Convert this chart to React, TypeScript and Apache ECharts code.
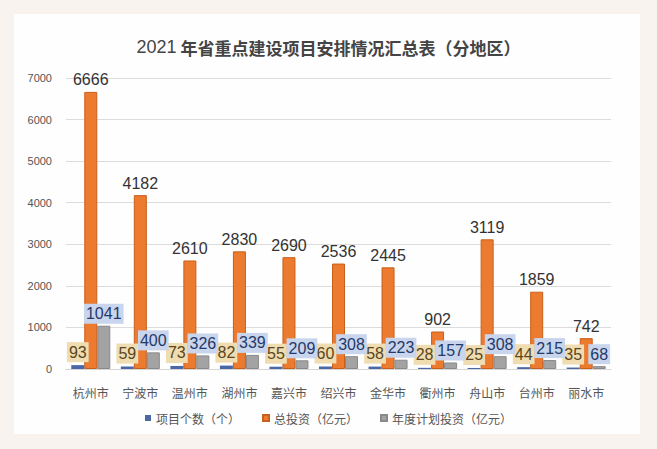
import React, { useEffect, useRef } from "react";
import * as echarts from "echarts";

const cities = ["杭州市", "宁波市", "温州市", "湖州市", "嘉兴市", "绍兴市", "金华市", "衢州市", "舟山市", "台州市", "丽水市"];
const projectCount = [93, 59, 73, 82, 55, 60, 58, 28, 25, 44, 35];
const totalInvest = [6666, 4182, 2610, 2830, 2690, 2536, 2445, 902, 3119, 1859, 742];
const annualInvest = [1041, 400, 326, 339, 209, 308, 223, 157, 308, 215, 68];
const seriesNames = ["项目个数（个）", "总投资（亿元）", "年度计划投资（亿元）"];
const yTicks = { min: 0, max: 7000, interval: 1000 };
const titleText = ["2021", " 年省重点建设项目安排情况汇总表（分地区）"];

export default function App() {
  const ref = useRef<HTMLDivElement>(null);
  useEffect(() => {
    const chart = echarts.init(ref.current!, null, { renderer: "svg" });
    const font = "'Noto Sans CJK SC', 'Noto Sans', sans-serif";
    const numFont = "'Liberation Sans', Arial, sans-serif";
    chart.setOption({
      animation: false,
      backgroundColor: "#f9f3ef",
      textStyle: { fontFamily: font },
      graphic: [
        {
          type: "rect",
          left: 14,
          top: 14,
          shape: { width: 626, height: 420 },
          style: { fill: "#fefefe" },
          z: -10,
          silent: true,
        },
      ],
      title: {
        text: `{a|${titleText[0]}}{b|${titleText[1]}}`,
        left: "center",
        top: 33,
        textStyle: {
          rich: {
            a: { fontSize: 18, color: "#444", fontFamily: numFont, fontWeight: "normal" },
            b: { fontSize: 17, color: "#444", fontFamily: font, fontWeight: "bold" },
          },
        },
      },
      legend: {
        bottom: 20,
        left: "center",
        itemWidth: 6,
        itemHeight: 6,
        itemGap: 22,
        icon: "rect",
        textStyle: { color: "#555", fontSize: 12, fontFamily: font },
        data: seriesNames,
      },
      grid: { left: 66, right: 46, top: 78, bottom: 80 },
      xAxis: {
        type: "category",
        data: cities,
        axisLine: { show: true, lineStyle: { color: "#d6d6d6" } },
        axisTick: { show: false },
        axisLabel: { color: "#555", fontSize: 12, margin: 17, fontFamily: font },
      },
      yAxis: {
        type: "value",
        min: yTicks.min,
        max: yTicks.max,
        interval: yTicks.interval,
        axisLine: { show: false },
        axisTick: { show: false },
        axisLabel: {
          color: "#555",
          fontSize: 11,
          margin: 14,
          fontFamily: numFont,
          formatter: (v: number) => String(v),
        },
        splitLine: { lineStyle: { color: "#dcdcdc" } },
      },
      series: [
        {
          name: seriesNames[0],
          type: "bar",
          data: projectCount,
          barWidth: 13,
          barGap: "0%",
          itemStyle: { color: "#4a68a6" },
          label: {
            show: true,
            position: "top",
            distance: 3,
            color: "#5a4620",
            fontSize: 16,
            fontFamily: numFont,
            backgroundColor: "#efdcb0",
            padding: [2, 2],
          },
          z: 3,
        },
        {
          name: seriesNames[1],
          type: "bar",
          data: totalInvest,
          barWidth: 13,
          itemStyle: { color: "#ec7a2f", borderColor: "#c85f1a", borderWidth: 1 },
          label: {
            show: true,
            position: "top",
            distance: 4,
            color: "#333",
            fontSize: 16,
            fontFamily: numFont,
          },
          z: 2,
        },
        {
          name: seriesNames[2],
          type: "bar",
          data: annualInvest,
          barWidth: 13,
          itemStyle: { color: "#a3a3a3", borderColor: "#888", borderWidth: 1 },
          label: {
            show: true,
            position: "top",
            distance: 2,
            color: "#25396a",
            fontSize: 16,
            fontFamily: numFont,
            backgroundColor: "#c8d5ec",
            padding: [2, 2],
          },
          z: 4,
        },
      ],
    });
    return () => chart.dispose();
  }, []);
  return <div ref={ref} style={{ width: 657, height: 449, position: "absolute", left: 0, top: 0 }} />;
}
